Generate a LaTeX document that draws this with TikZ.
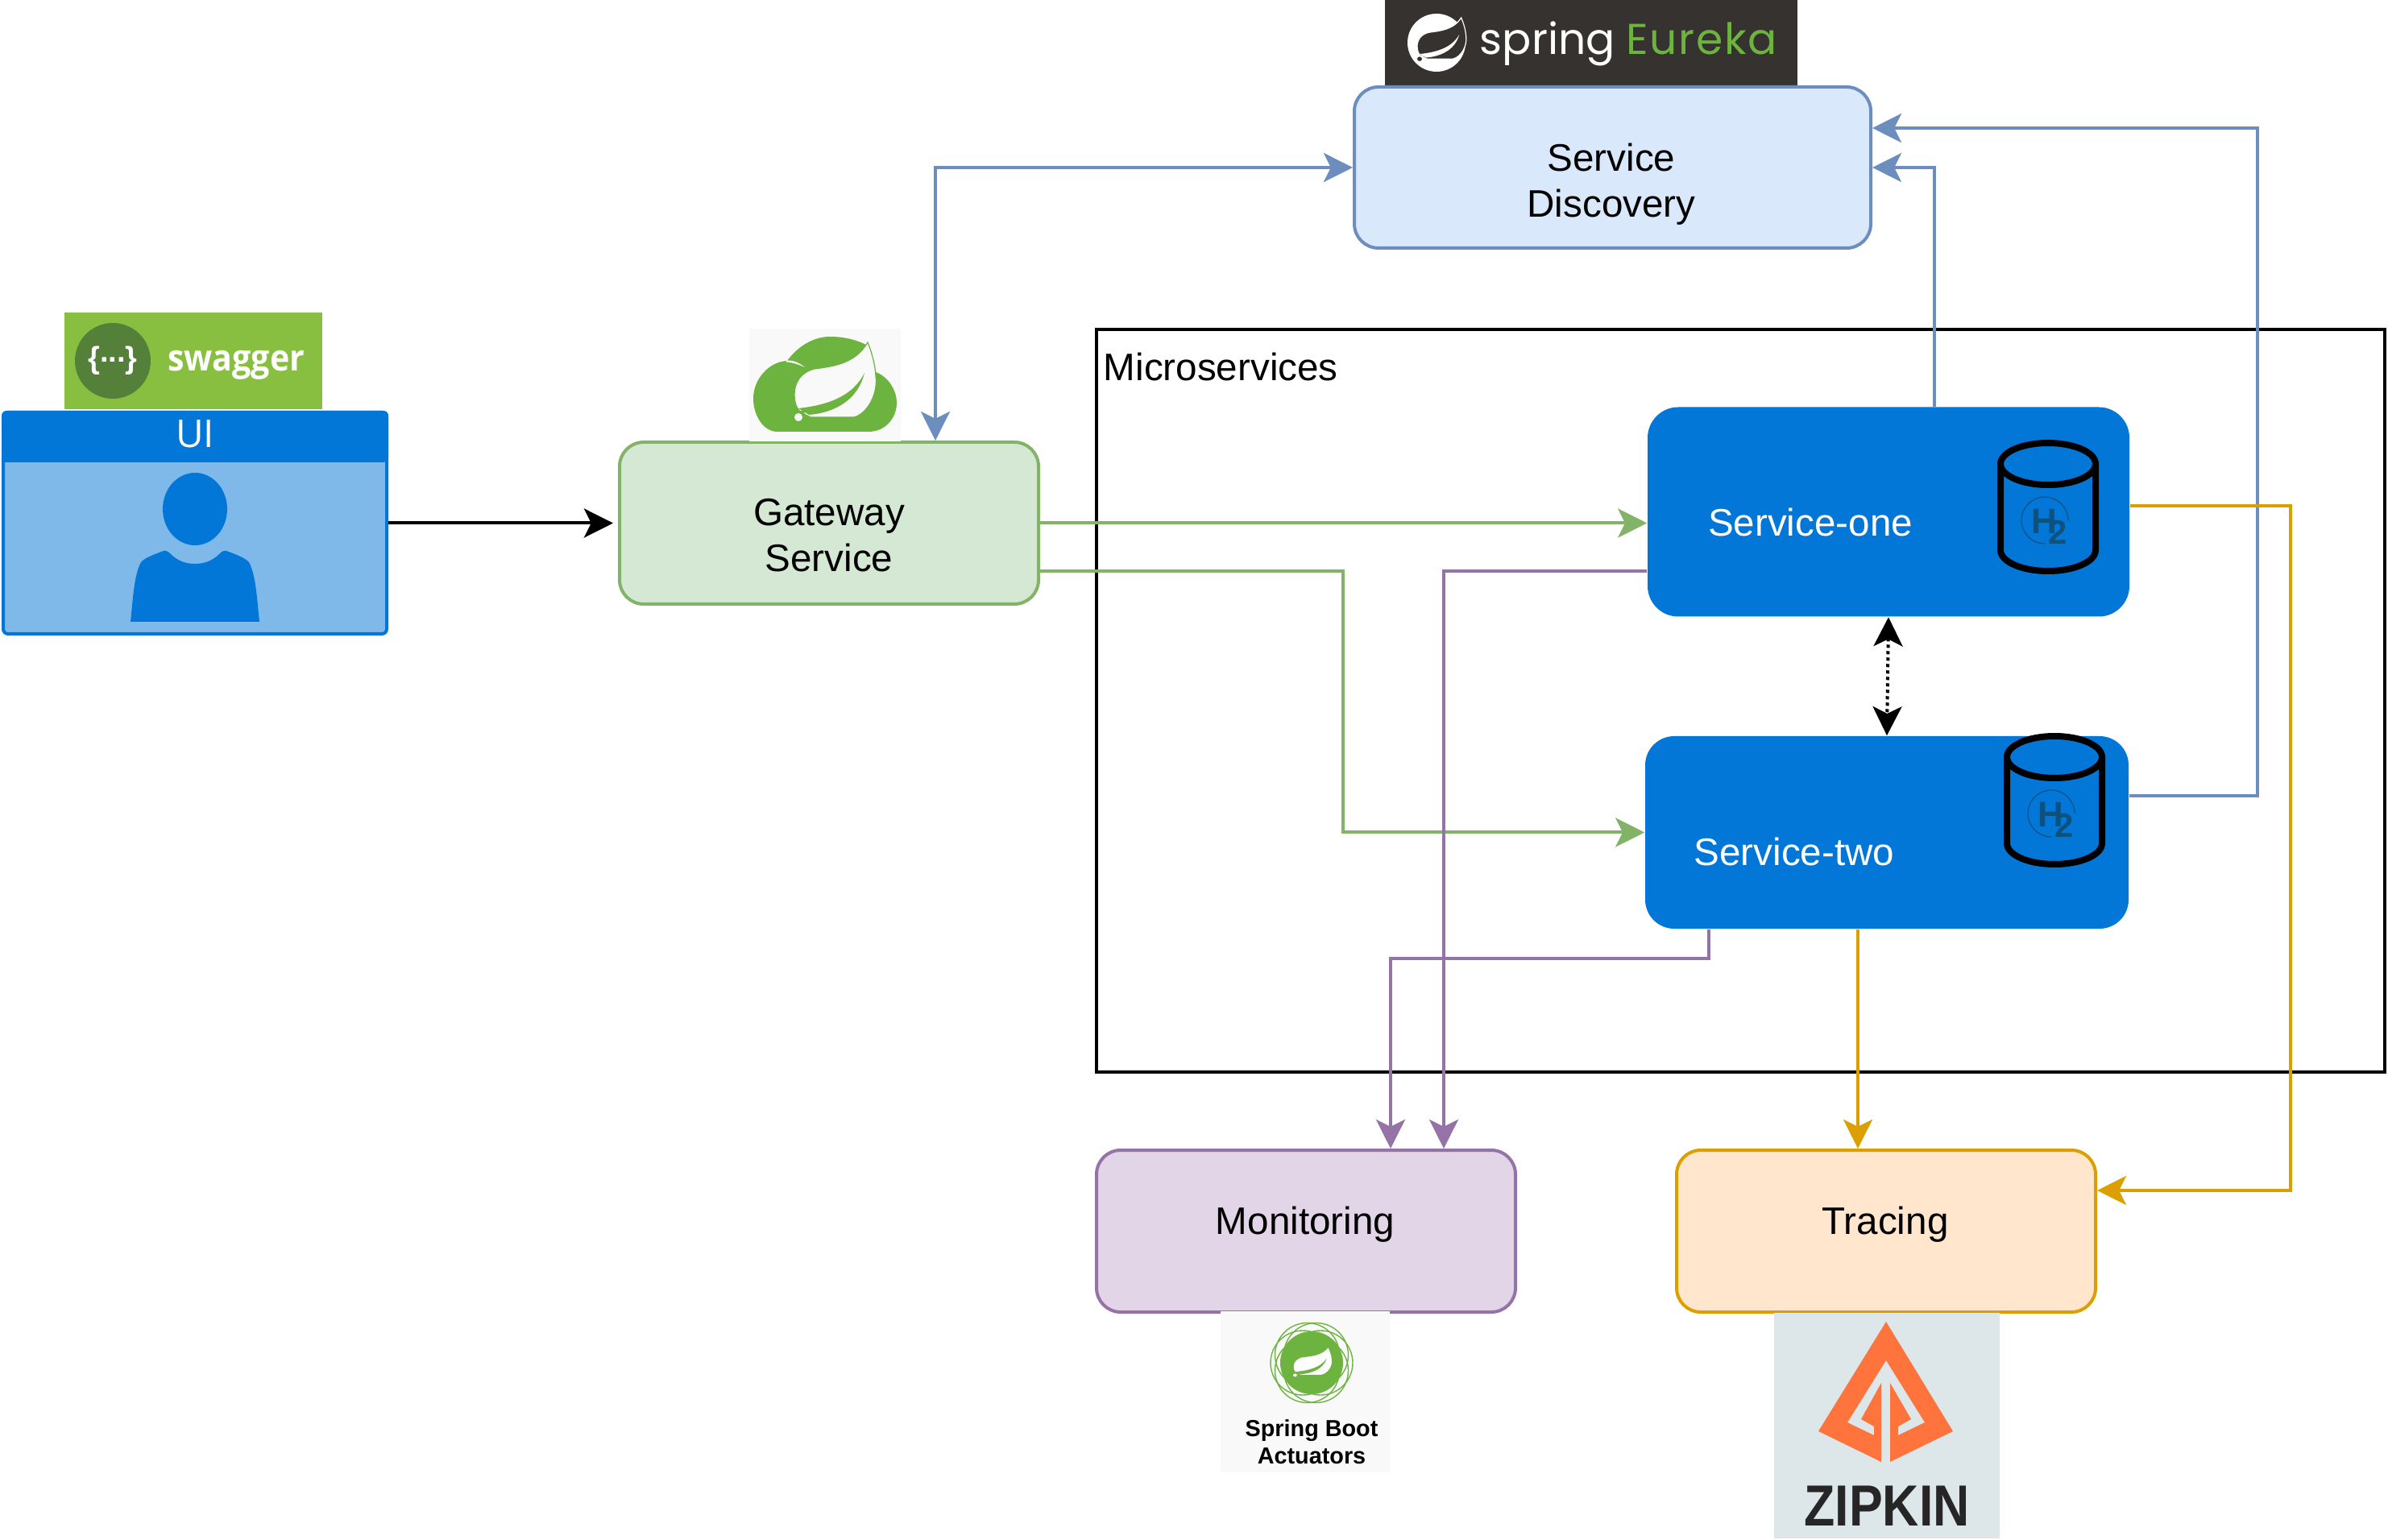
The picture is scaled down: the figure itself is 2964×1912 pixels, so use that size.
\documentclass[tikz,border=0pt]{standalone}
\usepackage{fontspec}
\setmainfont{Liberation Sans}
\newfontfamily\opensans{Open Sans}
\newfontfamily\poppins{Poppins}
\newfontfamily\poppinswide[LetterSpace=3]{Poppins}
\usetikzlibrary{arrows.meta,calc}
\definecolor{uiblue}{HTML}{0277D8}
\definecolor{uilight}{HTML}{7FB9EA}
\definecolor{springgreen}{HTML}{6DB33F}
\definecolor{swaggergreen}{HTML}{89BF41}
\definecolor{swaggerdark}{HTML}{55803A}
\definecolor{eurekadark}{HTML}{353230}
\definecolor{zipkinbg}{HTML}{DDE6E9}
\definecolor{zipkinorange}{HTML}{FF733C}
\definecolor{logobg}{HTML}{F9F9F9}
\definecolor{hdark}{HTML}{0D527F}
\definecolor{bluefill}{HTML}{DAE8FC}
\definecolor{bluedraw}{HTML}{6C8EBF}
\definecolor{greenfill}{HTML}{D5E8D4}
\definecolor{greendraw}{HTML}{82B366}
\definecolor{purplefill}{HTML}{E1D5E7}
\definecolor{purpledraw}{HTML}{9673A6}
\definecolor{orangefill}{HTML}{FFE6CC}
\definecolor{orangedraw}{HTML}{DBA000}
\tikzstyle{boxtext} = [inner sep=0pt,align=center,font=\fontsize{11.9}{14.25}\selectfont]
\tikzstyle{box} = [boxtext,draw,line width=1pt,rounded corners=7.5pt,minimum width=130pt,minimum height=50pt]
\tikzstyle{service} = [boxtext,fill=uiblue,text=white,rounded corners=9.5pt,minimum width=149.5pt]
\newcommand{\springleaf}[6]{
	\begin{scope}[shift={(#1,#2)},xscale=#3,yscale=#4]
		\filldraw[fill=#5,draw=#6,line width=.3pt] (91,0) .. controls (75,28) and (45,30) .. (25,33) .. controls (8,37) and (0,50) .. (0,65) .. controls (0,78) and (5,85) .. (10,88) -- (20,93) -- (74,93) .. controls (92,88) and (104,62) .. (101,42) .. controls (100,25) and (95,10) .. (91,0) -- cycle;
		\fill[#6] (5,82) .. controls (40,78) and (72,68) .. (87,38) .. controls (78,75) and (45,88) .. (18,90) -- cycle;
		\fill[#6] (0,88) -- (12,84) -- (14,98) -- (0,98) -- cycle;
		\fill[#5] (5,93) circle [radius=5];
	\end{scope}
}
\newcommand{\hdb}[3]{
	\begin{scope}[shift={(#1,#2)}]
		\draw[line width=2pt] (-59,26) -- (-59,133) .. controls (-59,147.4) and (-32.6,159) .. (0,159) .. controls (32.6,159) and (59,147.4) .. (59,133) -- (59,26);
		\draw[line width=2pt] (0,26) ellipse [x radius=59,y radius=26];
		\draw[hdark,line width=.3pt] (25,96) arc [start angle=0,end angle=-270,radius=29];
		\node (#3h) at (-5,97) [inner sep=0pt,hdark,font=\fontsize{11}{11}\bfseries\selectfont] {H};
		\node (#3two) at (12,111) [inner sep=0pt,hdark,font=\fontsize{10.5}{11}\bfseries\selectfont] {2};
	\end{scope}
}
\begin{document}
\begin{tikzpicture}[x=.25pt,y=-.25pt,
			>={Stealth[length=9pt,width=9pt,inset=2.2pt]},
			link/.style = {line width=1pt},
			bluelink/.style = {link,bluedraw},
			greenlink/.style = {link,greendraw},
			purplelink/.style = {link,purpledraw},
			orangelink/.style = {link,orangedraw}]
			\useasboundingbox (0,0) rectangle (2964,1912);

			\node (micro) at (2160.5,870) [draw,line width=1pt,minimum width=399.75pt,minimum height=230.25pt] {};
			\node (microtext) at (1369,455) [boxtext,anchor=west] {Microservices};

			\node (eurekabg) at (1975,53.5) [fill=eurekadark,minimum width=128pt,minimum height=26.75pt,inner sep=0pt] {};
			\fill[white] (1783,53) circle [radius=36];
			\springleaf{1759}{22}{.6}{.55}{eurekadark}{white}
			\node (springtext) at (1836,68) [anchor=base west,inner sep=0pt,white,font=\fontsize{13.4}{14}\poppins] {spring};
			\node (eurekatext) at (2018,68) [anchor=base west,inner sep=0pt,springgreen,font=\fontsize{13.4}{14}\poppinswide] {Eureka};

			\node (sd) at (2001.5,208) [box,fill=bluefill,draw=bluedraw,minimum width=160.25pt] {};
			\node (sdtext) at (2000,229) [boxtext] {Service\\Discovery};
			\node (gateway) at (1029,649.5) [box,fill=greenfill,draw=greendraw,minimum height=50.25pt] {};
			\node (gatewaytext) at (1029,665) [boxtext] {Gateway\\Service};
			\node (s1) at (2344,635.5) [service,minimum height=65pt] {};
			\node (s1text) at (2247,648) [boxtext,white] {Service-one};
			\node (s2) at (2342,1033.5) [service,minimum width=150pt,minimum height=59.75pt,rounded corners=9pt] {};
			\node (s2text) at (2227,1057) [boxtext,white] {Service-two};
			\node (monitor) at (1621,1528.5) [box,fill=purplefill,draw=purpledraw,minimum height=50.25pt] {};
			\node (monitortext) at (1620,1520) [boxtext] {Monitoring};
			\node (tracing) at (2341,1528.5) [box,fill=orangefill,draw=orangedraw,minimum height=50.25pt] {};
			\node (tracingtext) at (2340,1520) [boxtext] {Tracing};

			\hdb{2542}{550}{db1}
			\hdb{2550}{914}{db2}

			\node (swagger) at (240,448) [fill=swaggergreen,minimum width=80pt,minimum height=30pt,inner sep=0pt] {};
			\node (swaggerlogo) at (140,448) [circle,fill=swaggerdark,minimum size=23.5pt,inner sep=0pt,text=white,font=\fontsize{9.5}{10}\bfseries\selectfont] {\{\raisebox{.22em}{...}\}};
			\node (swaggertext) at (293,453) [inner sep=0pt,white,font=\fontsize{11.3}{12}\opensans\bfseries\selectfont] {\scalebox{.91}[1]{swagger}};

			\node (ui) at (242,649.5) [draw=uiblue,fill=uilight,line width=1pt,rounded corners=1.5pt,minimum width=119pt,minimum height=68.75pt,inner sep=0pt] {};
			\fill[uiblue,rounded corners=1.5pt] (2,574) |- (482,510) -- (482,574) [sharp corners] -- cycle;
			\node (uitext) at (242,539) [inner sep=0pt,white,font=\fontsize{11.9}{14}\opensans] {UI};
			\fill[uiblue] (242,632) ellipse [x radius=40,y radius=45];
			\fill[uiblue] (162,772) .. controls (165,745) and (166,715) .. (175,698) .. controls (180,692) and (195,687) .. (203,684) .. controls (207,683) and (210,686) .. (212,688) .. controls (220,696) and (230,700) .. (242,700) .. controls (254,700) and (264,696) .. (272,688) .. controls (274,686) and (277,683) .. (281,684) .. controls (289,687) and (304,692) .. (309,698) .. controls (318,715) and (319,745) .. (322,772) -- cycle;

			\node (cloudbg) at (1024,478.5) [fill=logobg,minimum width=47pt,minimum height=35pt,inner sep=0pt] {};
			\fill[springgreen] (965,536) .. controls (947,536) and (935,515) .. (935,495) .. controls (935,470) and (955,449) .. (977,448) .. controls (990,430) and (1010,418) .. (1030,418) .. controls (1050,418) and (1065,423) .. (1075,428) -- (1087,462) .. controls (1103,468) and (1113,485) .. (1113,500) .. controls (1113,520) and (1098,536) .. (1078,536) -- cycle;
			\fill[logobg] (976,447.5) .. controls (985,447) and (993,451) .. (999,456) .. controls (992,453) and (985,450) .. (976,449.5) -- cycle;
			\springleaf{986}{425}{1}{1}{logobg}{springgreen}

			\node (actuatorbg) at (1620,1728) [fill=logobg,minimum width=52.5pt,minimum height=50pt,inner sep=0pt] {};
			\foreach \a in {0,60,120,180,240,300}
				\draw[springgreen,line width=.35pt] (1628,1692) ++(\a:11) circle [radius=40];
			\fill[springgreen] (1628,1692) circle [radius=39];
			\springleaf{1605}{1672}{.48}{.38}{white}{springgreen}
			\node (actuatortext) at (1628,1790) [inner sep=0pt,align=center,font=\fontsize{7.2}{8.6}\bfseries\selectfont] {Spring Boot\\Actuators};

			\node (zipkinbg) at (2342,1770) [fill=zipkinbg,minimum width=70pt,minimum height=70pt,inner sep=0pt] {};
			\fill[zipkinorange] (2341,1641) -- (2257,1777) -- (2335,1815) -- (2335,1717) -- (2310,1762) -- (2326,1771) -- (2326,1782) -- (2293,1766) -- (2341,1689) -- cycle;
			\fill[zipkinorange] (2341,1641) -- (2424,1777) -- (2346,1815) -- (2346,1717) -- (2372,1762) -- (2356,1771) -- (2356,1782) -- (2389,1766) -- (2341,1689) -- cycle;
			\node (zipkintext) at (2342,1870) [inner sep=0pt,text=black!85,font=\fontsize{18}{20}\bfseries\selectfont] {\scalebox{.87}[1]{ZIPKIN}};

			\draw[link,->,shorten >=1.5pt] (ui.east) -- (ui.east -| gateway.west);
			\draw[bluelink,<->] (sd.west) -| ($(gateway.north)+(132,0)$);
			\draw[bluelink,->] ($(s1.north)+(57,0)$) |- (sd.east);
			\draw[bluelink,->] ($(s2.east)+(0,-45)$) -- ++(159,0) |- ($(sd.east)+(0,-49)$);
			\draw[greenlink,->] (gateway.east) -- (gateway.east -| s1.west);
			\draw[greenlink,->] ($(gateway.east)+(0,59.5)$) -- ++(376,0) |- (s2.west);
			\draw[purplelink,->] ($(s1.west)+(0,73.5)$) -| ($(monitor.north)+(171,0)$);
			\draw[purplelink,->] ($(s2.south)+(-221,0)$) -- ++(0,36) -| ($(monitor.north)+(105,0)$);
			\draw[orangelink,->] ($(s2.south)+(-36,0)$) -- ($(tracing.north)+(-35,0)$);
			\draw[orangelink,->] ($(s1.east)+(0,-7.5)$) -- ++(199,0) |- ($(tracing.east)+(0,-50.5)$);
			\draw[link,<->,dash pattern=on 1pt off 1pt] (s1.south) -- (s2.north);
		\end{tikzpicture}
\end{document}
